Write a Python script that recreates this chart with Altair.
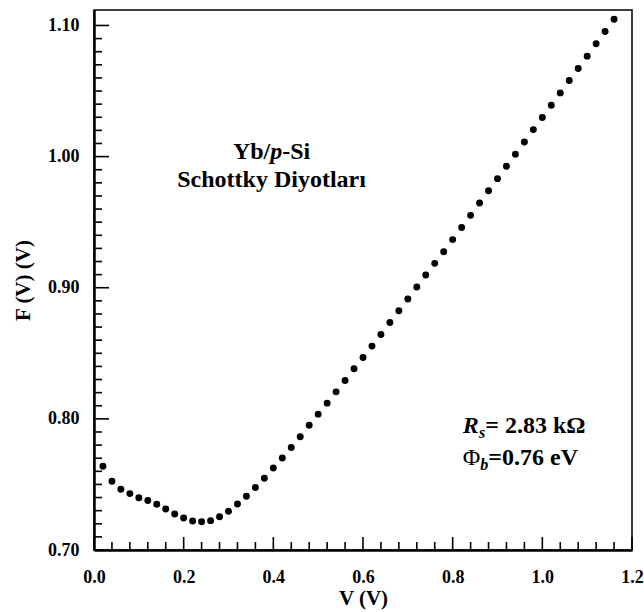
import altair as alt
import pandas as pd

# ---- data ----
V = [0.02, 0.04, 0.06, 0.08, 0.10, 0.12, 0.14, 0.16, 0.18, 0.20,
     0.22, 0.24, 0.26, 0.28, 0.30, 0.32, 0.34, 0.36, 0.38, 0.40,
     0.42, 0.44, 0.46, 0.48, 0.50, 0.52, 0.54, 0.56, 0.58, 0.60,
     0.62, 0.64, 0.66, 0.68, 0.70, 0.72, 0.74, 0.76, 0.78, 0.80,
     0.82, 0.84, 0.86, 0.88, 0.90, 0.92, 0.94, 0.96, 0.98, 1.00,
     1.02, 1.04, 1.06, 1.08, 1.10, 1.12, 1.14, 1.16]
F = [0.7639, 0.7524, 0.7463, 0.7430, 0.7399, 0.7377, 0.7349, 0.7313, 0.7275, 0.7244,
     0.7221, 0.7216, 0.7224, 0.7254, 0.7295, 0.7351, 0.7410, 0.7476, 0.7547, 0.7626,
     0.7702, 0.7781, 0.7863, 0.7952, 0.8036, 0.8120, 0.8206, 0.8293, 0.8382, 0.8468,
     0.8555, 0.8644, 0.8735, 0.8824, 0.8914, 0.9005, 0.9097, 0.9186, 0.9275, 0.9367,
     0.9460, 0.9552, 0.9646, 0.9740, 0.9832, 0.9926, 1.0018, 1.0112, 1.0206, 1.0298,
     1.0392, 1.0486, 1.0580, 1.0672, 1.0766, 1.0860, 1.0954, 1.1048]

x_major = [0.0, 0.2, 0.4, 0.6, 0.8, 1.0, 1.2]
x_minor = [0.04, 0.08, 0.12, 0.16, 0.24, 0.28, 0.32, 0.36, 0.44, 0.48, 0.52, 0.56,
           0.64, 0.68, 0.72, 0.76, 0.84, 0.88, 0.92, 0.96, 1.04, 1.08, 1.12, 1.16]
y_major = [0.70, 0.80, 0.90, 1.00, 1.10]
y_minor = [0.71, 0.72, 0.73, 0.74, 0.75, 0.76, 0.77, 0.78, 0.79,
           0.81, 0.82, 0.83, 0.84, 0.85, 0.86, 0.87, 0.88, 0.89,
           0.91, 0.92, 0.93, 0.94, 0.95, 0.96, 0.97, 0.98, 0.99,
           1.01, 1.02, 1.03, 1.04, 1.05, 1.06, 1.07, 1.08, 1.09]

# annotation anchors (data coordinates)
label_V = [0.396, 0.396]
label_F = [0.9985, 0.9771]
param_V = [0.8728, 0.8795]
param_F = [0.7895, 0.7649]

FONT = "Liberation Serif"
W, H = 538, 540

xscale = alt.Scale(domain=[0.0, 1.2], nice=False, zero=False)
yscale = alt.Scale(domain=[0.70, 1.1118], nice=False, zero=False)

xaxis = alt.Axis(values=x_major, format=".1f", title="V (V)", ticks=False, tickSize=0,
                 grid=False, labelFlush=False, labelOverlap=False, labelPadding=18,
                 labelFont=FONT, labelFontSize=18, labelFontWeight="bold", labelColor="black",
                 titleFont=FONT, titleFontSize=21, titleFontWeight="bold", titleColor="black",
                 titlePadding=1, domainColor="black", domainWidth=2.5)
yaxis = alt.Axis(values=y_major, format=".2f", title="F (V) (V)", ticks=False, tickSize=0,
                 grid=False, labelFlush=False, labelOverlap=False, labelPadding=15,
                 labelFont=FONT, labelFontSize=18, labelFontWeight="bold", labelColor="black",
                 titleFont=FONT, titleFontSize=21, titleFontWeight="bold", titleColor="black",
                 titlePadding=14, domainColor="black", domainWidth=2.5)


def X(field="V"):
    return alt.X(f"{field}:Q", scale=xscale, axis=xaxis)


def Y(field="F"):
    return alt.Y(f"{field}:Q", scale=yscale, axis=yaxis)


pts = alt.Chart(pd.DataFrame({"V": V, "F": F})).mark_circle(
    size=48, color="black", opacity=1).encode(x=X(), y=Y())

xmaj = alt.Chart(pd.DataFrame({"V": x_major})).mark_rule(color="black", strokeWidth=1.6).encode(
    x=X(), y=alt.value(H), y2=alt.value(H - 13))
xmin = alt.Chart(pd.DataFrame({"V": x_minor})).mark_rule(color="black", strokeWidth=1.6).encode(
    x=X(), y=alt.value(H), y2=alt.value(H - 8))
ymaj = alt.Chart(pd.DataFrame({"F": y_major})).mark_rule(color="black", strokeWidth=1.6).encode(
    y=Y(), x=alt.value(0), x2=alt.value(15))
ymin = alt.Chart(pd.DataFrame({"F": y_minor})).mark_rule(color="black", strokeWidth=1.6).encode(
    y=Y(), x=alt.value(0), x2=alt.value(8))


def txt(v, f, text, align="left", dx=0, dy=0, size=24, weight="bold", style="normal"):
    return alt.Chart(pd.DataFrame({"V": [v], "F": [f], "t": [text]})).mark_text(
        font=FONT, fontSize=size, fontWeight=weight, fontStyle=style, color="black",
        align=align, baseline="alphabetic", dx=dx, dy=dy).encode(x=X(), y=Y(), text="t:N")


texts = [
    txt(label_V[0], label_F[0], "Yb/", align="right", dx=-1.3),
    txt(label_V[0], label_F[0], "p", align="left", dx=-1.3, style="italic"),
    txt(label_V[0], label_F[0], "-Si", align="left", dx=10.7),
    txt(label_V[1], label_F[1], "Schottky Diyotları", align="center"),
    txt(param_V[0], param_F[0], "R", align="right", dx=-6.5, style="italic"),
    txt(param_V[0], param_F[0], "s", align="right", dx=0, dy=5, size=16, style="italic"),
    txt(param_V[0], param_F[0], "= 2.83 kΩ", align="left"),
    txt(param_V[1], param_F[1], "Φ", align="right", dx=-8, weight="normal"),
    txt(param_V[1], param_F[1], "b", align="right", dx=0, dy=5, size=16, style="italic"),
    txt(param_V[1], param_F[1], "=0.76 eV", align="left"),
]

chart = alt.layer(pts, xmaj, xmin, ymaj, ymin, *texts).properties(
    width=W, height=H,
    padding={"left": 94, "top": 10, "right": 12, "bottom": 62},
    autosize=alt.AutoSizeParams(type="none"),
    background="white",
).configure_view(stroke="black", strokeWidth=1.5)

chart.save("out.html", embed_options={"renderer": "svg", "actions": False})
